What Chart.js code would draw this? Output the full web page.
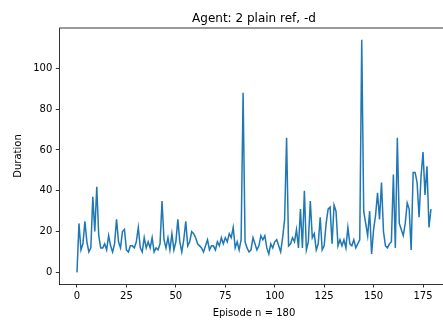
<!DOCTYPE html>
<html>
<head>
<meta charset="utf-8">
<script src="https://cdn.jsdelivr.net/npm/chart.js@4"></script>
<style>
html,body{margin:0;padding:0;background:#fff;}
#c{display:block;}
</style>
</head>
<body>
<canvas id="c" width="443" height="325"></canvas>
<script>
const chartTitle = "Agent: 2 plain ref, -d";
const xLabel = "Episode n = 180";
const yLabel = "Duration";
const xTicks = [0, 25, 50, 75, 100, 125, 150, 175];
const yTicks = [0, 20, 40, 60, 80, 100];
const durations = [
  0, 24, 11, 14, 25, 15, 10, 12, 37, 20,
  42, 18, 12, 12, 14, 11, 18, 13, 10, 14,
  26, 15, 12, 20, 21, 11, 10, 13, 13, 12,
  15, 22, 12, 10, 17, 12, 15, 12, 17, 10,
  12, 11, 14, 35, 16, 12, 17, 11, 19, 11,
  15, 26, 15, 10, 16, 25, 13, 15, 20, 19,
  17, 14, 13, 12, 10, 13, 16, 11, 13, 13,
  11, 15, 13, 17, 14, 17, 15, 19, 17, 22,
  12, 15, 11, 16, 88, 15, 12, 10, 11, 17,
  14, 11, 13, 18, 16, 18, 12, 9, 14, 12,
  15, 16, 13, 10, 17, 26, 66, 13, 14, 17,
  15, 21, 12, 31, 12, 40, 11, 15, 35, 17,
  19, 11, 14, 27, 11, 13, 24, 31, 32, 14,
  33, 30, 13, 16, 13, 16, 12, 22, 14, 13,
  16, 12, 14, 16, 114, 30, 24, 18, 30, 9,
  21, 28, 39, 26, 44, 20, 13, 12, 14, 15,
  48, 12, 66, 24, 21, 18, 24, 34, 31, 11,
  49, 49, 44, 27, 47, 59, 38, 52, 22, 31
];
const episodes = durations.map((_, i) => i);

const points = episodes.map((e, i) => ({x: e, y: durations[i]}));

const FONT = "'DejaVu Sans', 'Liberation Sans', sans-serif";

const extras = {
  id: 'extras',
  afterDraw(chart) {
    const ctx = chart.ctx;
    const a = chart.chartArea;
    ctx.save();
    // top spine
    ctx.strokeStyle = '#000';
    ctx.lineWidth = 0.8;
    ctx.beginPath();
    ctx.moveTo(a.left, a.top);
    ctx.lineTo(a.right, a.top);
    ctx.stroke();
    // axes center (matplotlib axes extend beyond the cropped right edge)
    const xs = chart.scales.x;
    const axCenter = (xs.getPixelForValue(-8.95) + xs.getPixelForValue(187.95)) / 2;
    ctx.fillStyle = '#000';
    ctx.textAlign = 'center';
    ctx.textBaseline = 'alphabetic';
    ctx.font = '12px ' + FONT;
    ctx.fillText(chartTitle, axCenter, 22);
    ctx.font = '10px ' + FONT;
    ctx.textBaseline = 'middle';
    ctx.fillText(xLabel, axCenter, 313);
    ctx.translate(18, (a.top + a.bottom) / 2);
    ctx.rotate(-Math.PI / 2);
    ctx.fillText(yLabel, 0, 0);
    ctx.restore();
  }
};

new Chart(document.getElementById('c'), {
  type: 'line',
  data: {
    datasets: [{
      data: points,
      borderColor: '#1f77b4',
      borderWidth: 1.5,
      pointRadius: 0,
      tension: 0,
      fill: false
    }]
  },
  options: {
    responsive: false,
    animation: false,
    devicePixelRatio: 1,
    layout: {padding: {top: 28, right: 0, bottom: 0, left: 0}},
    plugins: {legend: {display: false}, tooltip: {enabled: false}, title: {display: false}},
    scales: {
      x: {
        type: 'linear',
        min: -8.95,
        max: 185.1,
        afterBuildTicks: s => { s.ticks = xTicks.map(v => ({value: v})); },
        afterFit: s => { s.height = 41; },
        grid: {display: true, drawOnChartArea: false, drawTicks: true, tickLength: 3.5, tickWidth: 0.8, tickColor: '#000'},
        border: {display: true, color: '#000', width: 0.8},
        ticks: {color: '#000', font: {family: FONT, size: 10}, padding: 3, maxRotation: 0, autoSkip: false}
      },
      y: {
        type: 'linear',
        min: -5.7,
        max: 119.8,
        afterBuildTicks: s => { s.ticks = yTicks.map(v => ({value: v})); },
        afterFit: s => { s.width = 59.3; },
        grid: {display: true, drawOnChartArea: false, drawTicks: true, tickLength: 3.5, tickWidth: 0.8, tickColor: '#000'},
        border: {display: true, color: '#000', width: 0.8},
        ticks: {color: '#000', font: {family: FONT, size: 10}, padding: 3.5, autoSkip: false}
      }
    }
  },
  plugins: [extras]
});
</script>
</body>
</html>
